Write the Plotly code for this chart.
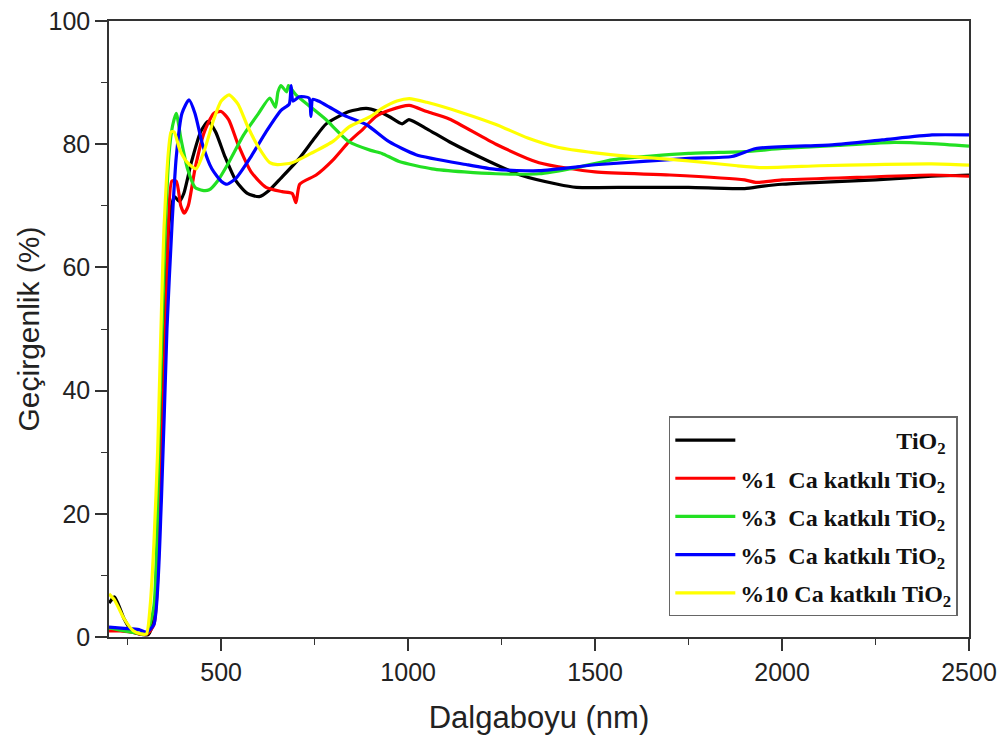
import plotly.graph_objects as go

# ---- data ----
x_tio2 = [200, 215, 240, 260, 280, 305, 320, 335, 350, 362, 375, 388, 400, 420, 445, 465, 485, 510, 540, 570, 602, 628, 660, 709, 750, 781, 842, 888, 920, 949, 984, 1002, 1050, 1110, 1217, 1300, 1400, 1450, 1600, 1750, 1900, 1950, 2000, 2100, 2250, 2400, 2500]
y_tio2 = [5.5, 6.5, 3, 1, 0.5, 0.4, 3, 25, 55, 68, 71.5, 70.7, 72, 77, 82, 83.7, 82, 78, 74, 72, 71.5, 72.5, 74.5, 77.7, 81, 83.3, 85.3, 85.8, 85.3, 84.5, 83.3, 84, 82.5, 80.4, 77.2, 75, 73.5, 73, 73, 73, 72.8, 73.2, 73.5, 73.8, 74.2, 74.8, 75]

x_ca1 = [200, 230, 260, 300, 320, 340, 355, 368, 380, 392, 401, 412, 430, 455, 480, 500, 520, 545, 580, 620, 663, 690, 700, 710, 754, 800, 842, 880, 914, 950, 1003, 1050, 1110, 1235, 1350, 1500, 1700, 1900, 1930, 2000, 2200, 2400, 2500]
y_ca1 = [1, 1, 0.8, 0.4, 2, 28, 58, 74, 74, 70, 68.8, 70, 76, 82, 85, 85.3, 84, 80, 75.5, 73, 72.3, 72, 70.5, 73.5, 75, 77.5, 80.4, 82.5, 84.5, 85.5, 86.3, 85.3, 84.1, 80, 77, 75.5, 75, 74.2, 73.8, 74.2, 74.6, 75, 74.8]

x_ca3 = [200, 240, 280, 300, 320, 335, 350, 360, 370, 380, 392, 410, 430, 450, 468, 490, 520, 560, 600, 630, 645, 652, 660, 675, 680, 700, 740, 780, 842, 900, 930, 976, 1064, 1150, 1235, 1350, 1450, 1550, 1750, 1900, 2000, 2150, 2300, 2400, 2500]
y_ca3 = [1.5, 1, 0.6, 0.5, 5, 35, 65, 78, 83, 85, 81, 76, 73, 72.5, 72.6, 74, 77, 81.5, 85, 87.5, 86, 88.5, 89.5, 88.5, 89.5, 88, 86, 84, 80.4, 79, 78.5, 77.2, 76, 75.5, 75.2, 75.2, 76.2, 77.5, 78.5, 78.8, 79.3, 79.8, 80.3, 80.1, 79.7]

x_ca5 = [200, 240, 280, 300, 320, 340, 355, 369, 380, 395, 414, 430, 450, 475, 500, 516, 540, 580, 620, 660, 682, 687, 692, 709, 735, 740, 745, 760, 790, 824, 888, 949, 1021, 1155, 1235, 1350, 1510, 1750, 1866, 1930, 2134, 2268, 2401, 2500]
y_ca5 = [1.6, 1.4, 1.2, 0.8, 2, 22, 50, 67.5, 78, 85, 87.2, 85, 80, 76, 74, 73.5, 74.5, 78, 82, 85.5, 86.5, 89.5, 87, 87.7, 87.5, 84.5, 87.3, 87, 86, 84.8, 83.2, 80.4, 78.3, 76.7, 75.9, 75.7, 76.7, 77.7, 78, 79.3, 79.9, 80.7, 81.5, 81.5]

x_ca10 = [200, 215, 240, 265, 285, 300, 310, 320, 330, 348, 366, 374, 390, 410, 433, 455, 480, 500, 521, 545, 570, 600, 630, 650, 690, 740, 800, 842, 900, 930, 970, 1003, 1050, 1150, 1235, 1320, 1400, 1500, 1600, 1750, 1880, 1950, 2100, 2250, 2400, 2500]
y_ca10 = [7, 6, 3, 1, 0.5, 0.5, 5, 15, 30, 67.5, 82, 82, 79, 77, 76, 79, 84, 87, 88, 86.5, 83, 79.5, 77, 76.7, 77, 78.5, 80.5, 82.8, 84.5, 85.8, 87, 87.4, 86.8, 85, 83.2, 81, 79.5, 78.6, 78, 77.3, 76.5, 76.2, 76.5, 76.7, 76.8, 76.6]

NB = "\u00a0"
names = [
    NB * 26 + "<b>TiO<sub>2</sub></b>",
    "<b>%1" + NB * 2 + "Ca katkılı TiO<sub>2</sub></b>",
    "<b>%3" + NB * 2 + "Ca katkılı TiO<sub>2</sub></b>",
    "<b>%5" + NB * 2 + "Ca katkılı TiO<sub>2</sub></b>",
    "<b>%10 Ca katkılı TiO<sub>2</sub></b>",
]
colors = ["#000000", "#ff0000", "#22e022", "#0000ff", "#ffff00"]
xs = [x_tio2, x_ca1, x_ca3, x_ca5, x_ca10]
ys = [y_tio2, y_ca1, y_ca3, y_ca5, y_ca10]

fig = go.Figure()
for i, (xv, yv, nm, c) in enumerate(zip(xs, ys, names, colors)):
    fig.add_trace(go.Scatter(x=xv, y=yv, mode="lines", name=nm,
                             legendgroup=f"g{i}",
                             line=dict(color=c, width=3.2, shape="spline", smoothing=0.6)))

axis_common = dict(
    showline=True, linecolor="#333", linewidth=1.5, mirror=True,
    ticks="outside", ticklen=12, tickwidth=1.5, tickcolor="#333",
    showgrid=False, zeroline=False, automargin=False,
    ticklabeloverflow="allow",
    tickfont=dict(family="Liberation Sans, Arial", size=25, color="#222"),
)
minor_common = dict(ticks="outside", ticklen=6, tickwidth=1.3, tickcolor="#333")

fig.update_layout(
    width=1007, height=745,
    margin=dict(l=101, r=46, t=13, b=116),
    paper_bgcolor="white", plot_bgcolor="white",
    xaxis=dict(range=[200, 2500], tick0=500, dtick=500,
               minor=dict(dtick=250, tick0=250, **minor_common),
               title=dict(text="Dalgaboyu (nm)", font=dict(family="Liberation Sans, Arial", size=31, color="#222"), standoff=22),
               **axis_common),
    yaxis=dict(range=[0, 100], tick0=0, dtick=20,
               minor=dict(dtick=10, **minor_common),
               title=dict(text="Geçirgenlik (%)", font=dict(family="Liberation Sans, Arial", size=30, color="#222"), standoff=0),
               **axis_common),
    legend=dict(x=0.987, xanchor="right", y=0.358, yanchor="top",
                bgcolor="white", bordercolor="#666", borderwidth=1.5,
                font=dict(family="Liberation Serif, Times New Roman", size=24, color="#111"),
                traceorder="grouped", tracegroupgap=4, itemwidth=60),
    showlegend=True,
)

fig.write_html("out.html")
